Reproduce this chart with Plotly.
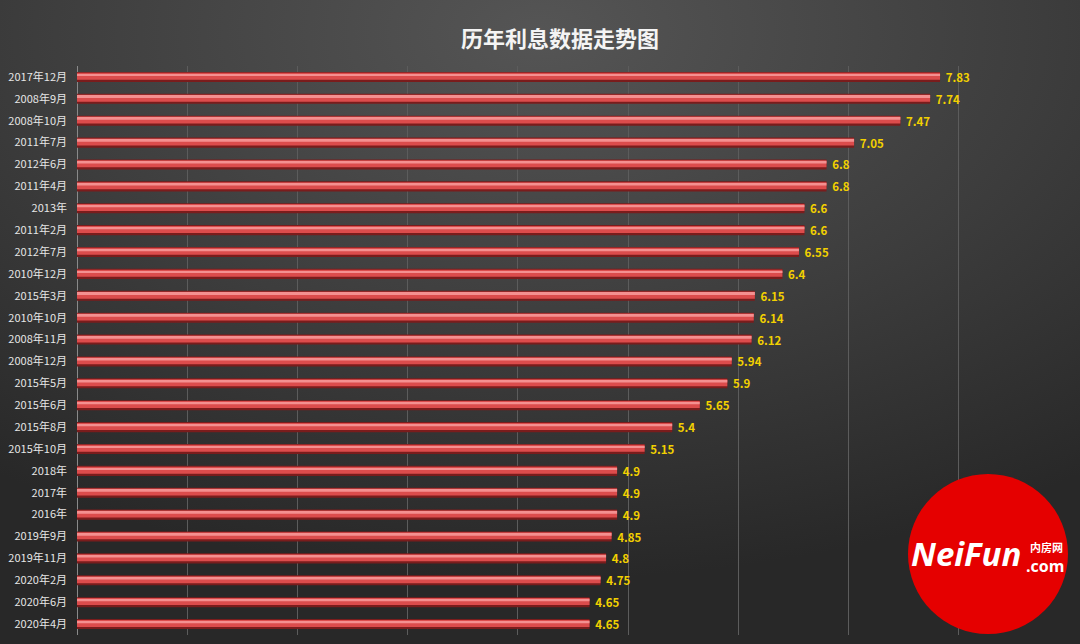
import base64
import plotly.graph_objects as go

categories = ["2017年12月", "2008年9月", "2008年10月", "2011年7月", "2012年6月", "2011年4月",
              "2013年", "2011年2月", "2012年7月", "2010年12月", "2015年3月", "2010年10月",
              "2008年11月", "2008年12月", "2015年5月", "2015年6月", "2015年8月", "2015年10月",
              "2018年", "2017年", "2016年", "2019年9月", "2019年11月", "2020年2月",
              "2020年6月", "2020年4月"]
rates = [7.83, 7.74, 7.47, 7.05, 6.8, 6.8, 6.6, 6.6, 6.55, 6.4, 6.15, 6.14, 6.12, 5.94,
         5.9, 5.65, 5.4, 5.15, 4.9, 4.9, 4.9, 4.85, 4.8, 4.75, 4.65, 4.65]
labels = ["\u00a0" + str(v) for v in rates]
title_text = "历年利息数据走势图"

W, H = 1080, 644
ML, MR, MT, MB = 77, 11, 66, 9
PW, PH = W - ML - MR, H - MT - MB


def px_x(p):
    return (p - ML) / PW


def px_y(p):
    return (H - MB - p) / PH


FONT = "Noto Sans CJK SC, Noto Sans, sans-serif"

fig = go.Figure()
# dark edge of the cylinder
fig.add_trace(go.Bar(y=categories, x=rates, orientation="h", width=0.46,
                     marker=dict(color="#7a1c1c", line=dict(width=0)),
                     text=labels, textposition="outside", cliponaxis=False,
                     constraintext="none",
                     textfont=dict(color="#f2d000", size=11.5, family=FONT, weight="bold"),
                     hoverinfo="skip"))
# main body
fig.add_trace(go.Bar(y=categories, x=rates, orientation="h", width=0.32, offset=-0.19,
                     marker=dict(color="#dc4c4c", line=dict(width=0)), hoverinfo="skip"))
# highlight
fig.add_trace(go.Bar(y=categories, x=rates, orientation="h", width=0.09, offset=-0.13,
                     marker=dict(color="#f49090", line=dict(width=0)), hoverinfo="skip"))

svg = ('<svg xmlns="http://www.w3.org/2000/svg" width="1080" height="644">'
       '<defs><radialGradient id="g" cx="50%" cy="5%" r="85%" gradientUnits="objectBoundingBox">'
       '<stop offset="0" stop-color="#555555"/><stop offset="0.55" stop-color="#3d3d3d"/>'
       '<stop offset="1" stop-color="#282828"/></radialGradient></defs>'
       '<rect width="1080" height="644" fill="url(#g)"/></svg>')
bg_src = "data:image/svg+xml;base64," + base64.b64encode(svg.encode()).decode()

fig.update_layout(
    width=W, height=H,
    margin=dict(l=ML, r=MR, t=MT, b=MB),
    paper_bgcolor="#383838", plot_bgcolor="rgba(0,0,0,0)",
    barmode="overlay", showlegend=False,
    font=dict(family=FONT, color="#e6e6e6"),
    images=[dict(source=bg_src, xref="paper", yref="paper",
                 x=-ML / PW, y=1 + MT / PH, sizex=W / PW, sizey=H / PH,
                 xanchor="left", yanchor="top", sizing="stretch", layer="below")],
    xaxis=dict(range=[0, 9], showticklabels=False, showgrid=True, gridcolor="#5c5c5c",
               gridwidth=1, zeroline=True, zerolinecolor="#8a8a8a", zerolinewidth=1,
               dtick=1, fixedrange=True),
    yaxis=dict(autorange="reversed", tickfont=dict(size=11, color="#e6e6e6", family=FONT),
               ticks="", ticklabelstandoff=9, showgrid=False, showline=False),
    annotations=[
        dict(text="<b>" + title_text + "</b>", xref="paper", yref="paper",
             x=px_x(560), y=px_y(37), xanchor="center", yanchor="middle", showarrow=False,
             font=dict(size=22, color="#f4f4f4", family=FONT)),
        dict(text="<b><i>NeiFun</i></b>", xref="paper", yref="paper",
             x=px_x(966), y=px_y(553), xanchor="center", yanchor="middle", showarrow=False,
             font=dict(size=33, color="#ffffff", family="Open Sans, sans-serif")),
        dict(text="<b>内房网</b>", xref="paper", yref="paper",
             x=px_x(1046), y=px_y(547), xanchor="center", yanchor="middle", showarrow=False,
             font=dict(size=11, color="#ffffff", family=FONT)),
        dict(text="<b>.com</b>", xref="paper", yref="paper",
             x=px_x(1045), y=px_y(566), xanchor="center", yanchor="middle", showarrow=False,
             font=dict(size=16, color="#ffffff", family="Open Sans, sans-serif")),
    ],
    shapes=[dict(type="circle", xref="paper", yref="paper",
                 x0=px_x(908), x1=px_x(1068), y0=px_y(634), y1=px_y(474),
                 fillcolor="#e50000", line=dict(width=0), layer="above")],
)

fig.write_html("out.html", config={"displayModeBar": False},
               post_script="document.body.style.margin='0';document.body.style.overflow='hidden';")
